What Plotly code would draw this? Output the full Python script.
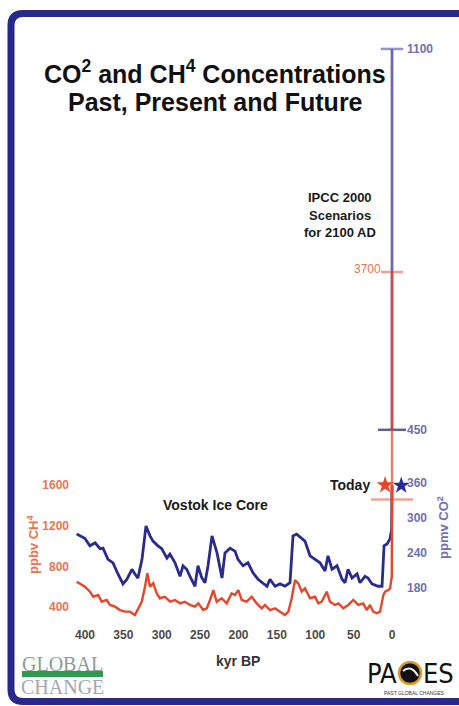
import plotly.graph_objects as go

# ---------------- data ----------------
co2_kyr = [410.8, 400.3, 393.5, 386.8, 380.3, 376.5, 370.0, 363.5, 357.0, 350.5,
           345.3, 338.8, 334.9, 331.0, 325.7, 320.5, 315.3, 311.4, 304.9, 300.0,
           293.2, 289.3, 282.7, 276.2, 272.3, 267.5, 263.2, 256.7, 252.8, 248.0,
           243.6, 239.7, 234.5, 228.0, 221.5, 217.6, 211.0, 204.6, 200.7, 194.1,
           187.6, 181.1, 174.6, 168.0, 162.9, 159.0, 152.4, 145.9, 139.4, 132.9,
           129.0, 124.2, 117.3, 113.4, 106.8, 100.3, 93.8, 87.3, 83.4, 78.2,
           71.7, 65.1, 61.2, 57.3, 52.1, 45.6, 41.7, 35.2, 31.3, 26.1,
           18.2, 13.0, 10.4, 6.5, 2.6, 0.5, 0.0]
co2_ppmv = [272, 265, 252, 257, 247, 248, 229, 223, 204, 187,
            195, 212, 204, 197, 229, 286, 269, 260, 252, 247,
            231, 238, 223, 200, 218, 212, 200, 183, 218, 198,
            189, 218, 269, 240, 197, 240, 248, 243, 229, 218,
            223, 206, 195, 189, 183, 195, 183, 187, 183, 189,
            269, 272, 264, 260, 235, 229, 223, 209, 235, 212,
            218, 195, 189, 212, 197, 204, 189, 200, 197, 187,
            183, 183, 252, 255, 264, 280, 355]

ch4_kyr = [410.8, 404.3, 400.0, 393.5, 389.2, 382.7, 378.2, 371.7, 367.4, 360.9,
           354.4, 347.9, 341.4, 334.9, 330.6, 326.1, 321.8, 318.8, 315.3, 311.0,
           306.6, 302.4, 295.8, 289.3, 282.7, 276.2, 269.7, 263.2, 256.7, 252.4,
           245.9, 241.4, 237.1, 232.8, 228.4, 221.9, 215.4, 208.9, 204.6, 200.3,
           195.8, 189.3, 182.8, 176.3, 169.8, 165.5, 159.0, 152.4, 145.9, 139.4,
           135.1, 130.7, 126.4, 122.1, 117.7, 113.4, 106.8, 100.3, 96.0, 91.6,
           85.1, 80.8, 74.3, 70.0, 63.5, 57.0, 50.4, 43.9, 37.4, 33.0,
           28.7, 24.4, 19.9, 15.6, 11.3, 9.1, 4.8, 2.6, 0.3, 0.0]
ch4_ppbv = [649, 617, 600, 551, 501, 518, 452, 469, 420, 403,
            370, 354, 354, 321, 387, 452, 600, 732, 600, 633,
            535, 486, 501, 452, 469, 436, 452, 420, 403, 436,
            370, 387, 469, 567, 452, 486, 436, 535, 518, 567,
            469, 452, 501, 436, 387, 420, 370, 387, 354, 321,
            354, 486, 666, 633, 551, 584, 486, 501, 436, 452,
            551, 452, 420, 436, 387, 420, 469, 420, 436, 370,
            420, 354, 338, 354, 518, 551, 567, 584, 700, 1600]

# IPCC 2000 scenario ranges for 2100 AD (plotted at 0 kyr BP)
scenario_kyr = [0, 0]
co2_range = [450, 1100]
ch4_range = [1460, 3700]

# "Today" stars
today_ch4_kyr = [9]
today_ch4 = [1600]
today_co2_kyr = [-12]
today_co2 = [355]

kyr_ticks = [400, 350, 300, 250, 200, 150, 100, 50, 0]
co2_ticks = [180, 240, 300, 360, 450, 1100]
ch4_ticks = [400, 800, 1200, 1600]
ch4_label_top = 3700

title_lines = ["CO<sup>2</sup> and CH<sup>4</sup> Concentrations", "Past, Present and Future"]
ipcc_lines = ["IPCC 2000", "Scenarios", "for 2100 AD"]

# ---------------- colours / fonts ----------------
CO2_LINE = "#2b2b8e"
CO2_RANGE = "#6b6bab"
CH4_LINE = "#e8462a"
CH4_TXT = "#ec7352"
CO2_TXT = "#6f6fb4"
FRAME = "#28288a"
SANS = "Liberation Sans, Arial, sans-serif"
SERIF = "Liberation Serif, Times New Roman, serif"
NARROW = "Liberation Sans Narrow, DejaVu Sans Condensed, Liberation Sans, sans-serif"

W, H = 459, 706
PL, PR, PT, PB = 70, 440, 30, 622   # plot area in pixels


def px(x):
    return (x - PL) / (PR - PL)


def py(y):
    return (PB - y) / (PB - PT)


def note(text, x, y, size, color, family=SANS, xanchor="center", angle=0):
    return dict(text=text, xref="paper", yref="paper", x=px(x), y=py(y),
                xanchor=xanchor, yanchor="middle", textangle=angle, showarrow=False,
                font=dict(family=family, size=size, color=color))


fig = go.Figure()

# CO2 (base axis, drawn below)
fig.add_trace(go.Scatter(x=co2_kyr, y=co2_ppmv, mode="lines",
                         line=dict(color=CO2_LINE, width=2.8), yaxis="y",
                         hoverinfo="skip"))
fig.add_trace(go.Scatter(x=scenario_kyr, y=co2_range, mode="lines+markers",
                         line=dict(color=CO2_RANGE, width=2.8), yaxis="y",
                         marker=dict(symbol="line-ew", size=[20, 16],
                                     line=dict(color=["#1e1e60", CO2_RANGE], width=2.5)),
                         hoverinfo="skip"))
fig.add_trace(go.Scatter(x=today_co2_kyr, y=today_co2, mode="markers",
                         marker=dict(symbol="star", size=13, color="#2a2aa0"),
                         yaxis="y", cliponaxis=False, hoverinfo="skip"))

# CH4 (overlaying axis, drawn on top)
fig.add_trace(go.Scatter(x=ch4_kyr, y=ch4_ppbv, mode="lines",
                         line=dict(color=CH4_LINE, width=2.4), yaxis="y2",
                         hoverinfo="skip"))
fig.add_trace(go.Scatter(x=scenario_kyr, y=ch4_range, mode="lines+markers",
                         line=dict(color=CH4_LINE, width=2.4), yaxis="y2",
                         opacity=0.7,
                         marker=dict(symbol="line-ew", size=[30, 16],
                                     line=dict(color=CH4_LINE, width=2.5)),
                         hoverinfo="skip"))
fig.add_trace(go.Scatter(x=today_ch4_kyr, y=today_ch4, mode="markers",
                         marker=dict(symbol="star", size=13, color="#ee4422"),
                         yaxis="y2", cliponaxis=False, hoverinfo="skip"))

annotations = []
# title lines
for i, line in enumerate(title_lines):
    annotations.append(note("<b>%s</b>" % line, 215, 72 + 30 * i, 25, "#111111"))
# axis titles
annotations.append(note("<b>ppbv CH<sup>4</sup></b>", 33, 545, 13, CH4_TXT, angle=-90))
annotations.append(note("<b>ppmv CO<sup>2</sup></b>", 443, 527, 13, CO2_TXT, angle=-90))
annotations.append(note("<b>kyr BP</b>", 238, 661, 14, "#333333"))
annotations.append(note("<b>Vostok Ice Core</b>", 215, 505, 14, "#1a1a1a"))
for i, line in enumerate(ipcc_lines):
    annotations.append(note("<b>%s</b>" % line, 340, 197 + 18 * i, 13, "#1a1a1a"))
annotations.append(dict(text="<b>Today</b>", xref="x", yref="y2",
                        x=today_ch4_kyr[0], y=today_ch4[0], xanchor="right", xshift=-13,
                        yanchor="middle", showarrow=False,
                        font=dict(family=SANS, size=14, color="#1a1a1a")))
annotations.append(dict(text=str(ch4_label_top), xref="x", yref="y2",
                        x=scenario_kyr[0], y=ch4_label_top, xanchor="right", xshift=-9,
                        yanchor="middle", yshift=3, showarrow=False,
                        font=dict(family=SANS, size=12, color=CH4_TXT)))
# logos
annotations.append(note("GLOBAL", 62, 664, 20, "#8c9c94", family=SERIF))
annotations.append(note("CHANGE", 62, 687, 20, "#a3a7b3", family=SERIF))
annotations.append(note("PA", 399, 673, 27, "#111111", family=NARROW, xanchor="right"))
annotations.append(note("ES", 421, 673, 27, "#111111", family=NARROW, xanchor="left"))
annotations.append(note("PAST GLOBAL CHANGES", 414, 693, 5, "#333333"))

shapes = []
# navy rounded frame (cut off on the right)
fl, ft, fb, fr, r = 11, 13.5, 701.5, 480, 12
path = ("M {a},{b} L {c},{b} Q {d},{b} {d},{e} L {d},{f} Q {d},{g} {c},{g} L {a},{g}"
        .format(a=px(fr), b=py(ft), c=px(fl + r), d=px(fl), e=py(ft + r),
                f=py(fb - r), g=py(fb)))
shapes.append(dict(type="path", path=path, xref="paper", yref="paper",
                   line=dict(color=FRAME, width=7)))
# Global change green bar
shapes.append(dict(type="rect", xref="paper", yref="paper", x0=px(22), x1=px(103),
                   y0=py(677), y1=py(671), fillcolor="#2e9a50", line=dict(width=0)))
# PAGES disc
shapes.append(dict(type="circle", xref="paper", yref="paper", x0=px(399), x1=px(421),
                   y0=py(684), y1=py(662), fillcolor="#111111",
                   line=dict(color="#d99a2a", width=2.5)))
shapes.append(dict(type="path", xref="paper", yref="paper",
                   path="M {},{} Q {},{} {},{}".format(px(403), py(671), px(411), py(664),
                                                         px(418), py(676)),
                   line=dict(color="#f2f2f2", width=2)))

fig.update_layout(
    width=W, height=H,
    margin=dict(l=PL, r=W - PR, t=PT, b=H - PB, autoexpand=False),
    paper_bgcolor="white", plot_bgcolor="rgba(0,0,0,0)",
    showlegend=False,
    xaxis=dict(range=[419.5, -62.5], tickvals=kyr_ticks, showgrid=False, zeroline=False,
               showline=False, ticks="", ticklabelstandoff=4,
               tickfont=dict(family=SANS, size=12, color="#4a4a4a", weight="bold")),
    yaxis=dict(range=[122.0, 1132.4], tickvals=co2_ticks, side="right", anchor="free",
               position=px(406), showgrid=False, zeroline=False, showline=False, ticks="",
               tickfont=dict(family=SANS, size=12, color=CO2_TXT, weight="bold")),
    yaxis2=dict(range=[252.2, 6084], tickvals=ch4_ticks, side="left", overlaying="y",
                anchor="x", showgrid=False, zeroline=False, showline=False, ticks="",
                tickfont=dict(family=SANS, size=12, color=CH4_TXT, weight="bold")),
    annotations=annotations,
    shapes=shapes,
)

fig.write_html("out.html",
               config={"displayModeBar": False},
               post_script="document.body.style.margin='0px';"
                           "document.body.style.overflow='hidden';")
